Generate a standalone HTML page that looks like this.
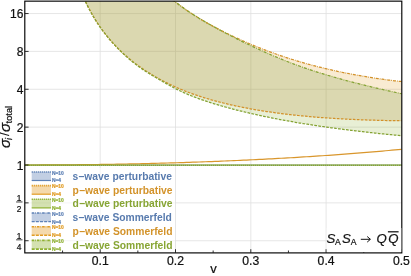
<!DOCTYPE html>
<html><head><meta charset="utf-8"><title>plot</title>
<style>html,body{margin:0;padding:0;background:#fff;}body{width:411px;height:276px;overflow:hidden;position:relative;font-family:"Liberation Sans",sans-serif;}svg{will-change:transform;}svg text{font-family:"Liberation Sans",sans-serif;}svg text[fill="#111"]{stroke:#111;stroke-width:0.22px;}</style>
</head><body>
<svg width="411" height="276" viewBox="0 0 411 276" style="position:absolute;left:0;top:0">
<defs><clipPath id="c"><rect x="24.8" y="1.15" width="377.0" height="251.75"/></clipPath></defs>
<rect x="0" y="0" width="411" height="276" fill="#fff"/>
<path d="M100.20,1.15 V252.9 M175.50,1.15 V252.9 M250.80,1.15 V252.9 M326.10,1.15 V252.9 M24.8,13.56 H401.8 M24.8,51.42 H401.8 M24.8,89.28 H401.8 M24.8,127.14 H401.8 M24.8,165.00 H401.8 M24.8,202.86 H401.8 M24.8,240.72 H401.8" stroke="#e0e0e0" stroke-width="0.8" fill="none"/>
<g clip-path="url(#c)">
<path d="M82.30,1.15 L172.40,1.15 L172.40,-0.43 L173.90,0.78 L175.40,1.96 L176.90,3.13 L178.40,4.27 L179.90,5.39 L181.40,6.49 L182.90,7.57 L184.40,8.64 L185.90,9.69 L187.40,10.72 L188.90,11.73 L190.40,12.73 L191.90,13.72 L193.40,14.69 L194.90,15.64 L196.40,16.59 L197.90,17.52 L199.40,18.43 L200.90,19.34 L202.40,20.23 L203.90,21.11 L205.40,21.98 L206.90,22.84 L208.40,23.69 L209.90,24.53 L211.40,25.36 L212.90,26.18 L214.40,26.99 L215.90,27.79 L217.40,28.59 L218.90,29.37 L220.40,30.14 L221.90,30.91 L223.40,31.67 L224.90,32.42 L226.40,33.16 L227.90,33.90 L229.40,34.63 L230.90,35.35 L232.40,36.06 L233.90,36.77 L235.40,37.47 L236.90,38.16 L238.40,38.85 L239.90,39.53 L241.40,40.21 L242.90,40.87 L244.40,41.54 L245.90,42.19 L247.40,42.84 L248.90,43.48 L250.40,44.12 L251.90,44.75 L253.40,45.37 L254.90,45.99 L256.40,46.60 L257.90,47.21 L259.40,47.81 L260.90,48.40 L262.40,48.99 L263.90,49.57 L265.40,50.15 L266.90,50.72 L268.40,51.28 L269.90,51.84 L271.40,52.39 L272.90,52.93 L274.40,53.47 L275.90,54.01 L277.40,54.53 L278.90,55.06 L280.40,55.57 L281.90,56.08 L283.40,56.59 L284.90,57.09 L286.40,57.58 L287.90,58.07 L289.40,58.55 L290.90,59.03 L292.40,59.50 L293.90,59.97 L295.40,60.43 L296.90,60.89 L298.40,61.34 L299.90,61.78 L301.40,62.22 L302.90,62.66 L304.40,63.09 L305.90,63.51 L307.40,63.93 L308.90,64.35 L310.40,64.76 L311.90,65.16 L313.40,65.56 L314.90,65.95 L316.40,66.34 L317.90,66.73 L319.40,67.11 L320.90,67.48 L322.40,67.85 L323.90,68.22 L325.40,68.58 L326.90,68.94 L328.40,69.29 L329.90,69.64 L331.40,69.98 L332.90,70.32 L334.40,70.65 L335.90,70.98 L337.40,71.31 L338.90,71.63 L340.40,71.94 L341.90,72.26 L343.40,72.57 L344.90,72.87 L346.40,73.17 L347.90,73.47 L349.40,73.76 L350.90,74.05 L352.40,74.33 L353.90,74.61 L355.40,74.89 L356.90,75.16 L358.40,75.43 L359.90,75.69 L361.40,75.95 L362.90,76.21 L364.40,76.46 L365.90,76.71 L367.40,76.96 L368.90,77.20 L370.40,77.44 L371.90,77.68 L373.40,77.91 L374.90,78.13 L376.40,78.36 L377.90,78.58 L379.40,78.80 L380.90,79.01 L382.40,79.22 L383.90,79.43 L385.40,79.63 L386.90,79.83 L388.40,80.03 L389.90,80.22 L391.40,80.42 L392.90,80.60 L394.40,80.79 L395.90,80.97 L397.40,81.15 L398.90,81.32 L400.40,81.49 L401.90,81.66 L401.80,120.75 L400.30,120.74 L398.80,120.72 L397.30,120.70 L395.80,120.68 L394.30,120.66 L392.80,120.64 L391.30,120.61 L389.80,120.58 L388.30,120.56 L386.80,120.53 L385.30,120.50 L383.80,120.47 L382.30,120.43 L380.80,120.40 L379.30,120.36 L377.80,120.32 L376.30,120.28 L374.80,120.24 L373.30,120.20 L371.80,120.15 L370.30,120.11 L368.80,120.06 L367.30,120.01 L365.80,119.96 L364.30,119.90 L362.80,119.85 L361.30,119.79 L359.80,119.73 L358.30,119.67 L356.80,119.61 L355.30,119.55 L353.80,119.48 L352.30,119.41 L350.80,119.34 L349.30,119.27 L347.80,119.20 L346.30,119.12 L344.80,119.04 L343.30,118.96 L341.80,118.88 L340.30,118.80 L338.80,118.71 L337.30,118.63 L335.80,118.54 L334.30,118.44 L332.80,118.35 L331.30,118.25 L329.80,118.15 L328.30,118.05 L326.80,117.95 L325.30,117.84 L323.80,117.73 L322.30,117.62 L320.80,117.51 L319.30,117.39 L317.80,117.28 L316.30,117.16 L314.80,117.03 L313.30,116.91 L311.80,116.78 L310.30,116.65 L308.80,116.51 L307.30,116.38 L305.80,116.24 L304.30,116.10 L302.80,115.95 L301.30,115.80 L299.80,115.65 L298.30,115.50 L296.80,115.34 L295.30,115.18 L293.80,115.02 L292.30,114.86 L290.80,114.69 L289.30,114.52 L287.80,114.34 L286.30,114.16 L284.80,113.98 L283.30,113.80 L281.80,113.61 L280.30,113.41 L278.80,113.22 L277.30,113.02 L275.80,112.82 L274.30,112.61 L272.80,112.40 L271.30,112.19 L269.80,111.97 L268.30,111.75 L266.80,111.53 L265.30,111.30 L263.80,111.06 L262.30,110.83 L260.80,110.58 L259.30,110.34 L257.80,110.09 L256.30,109.84 L254.80,109.58 L253.30,109.31 L251.80,109.05 L250.30,108.77 L248.80,108.50 L247.30,108.22 L245.80,107.93 L244.30,107.64 L242.80,107.34 L241.30,107.04 L239.80,106.74 L238.30,106.42 L236.80,106.11 L235.30,105.78 L233.80,105.46 L232.30,105.12 L230.80,104.78 L229.30,104.44 L227.80,104.09 L226.30,103.73 L224.80,103.37 L223.30,103.00 L221.80,102.63 L220.30,102.25 L218.80,101.86 L217.30,101.46 L215.80,101.06 L214.30,100.66 L212.80,100.24 L211.30,99.82 L209.80,99.39 L208.30,98.95 L206.80,98.50 L205.30,98.05 L203.80,97.59 L202.30,97.12 L200.80,96.64 L199.30,96.15 L197.80,95.65 L196.30,95.15 L194.80,94.63 L193.30,94.10 L191.80,93.57 L190.30,93.02 L188.80,92.46 L187.30,91.89 L185.80,91.31 L184.30,90.72 L182.80,90.12 L181.30,89.50 L179.80,88.88 L178.30,88.24 L176.80,87.58 L175.30,86.92 L173.80,86.24 L172.30,85.55 L170.80,84.84 L169.30,84.12 L167.80,83.39 L166.30,82.64 L164.80,81.88 L163.30,81.10 L161.80,80.31 L160.30,79.50 L158.80,78.68 L157.30,77.84 L155.80,76.99 L154.30,76.11 L152.80,75.23 L151.30,74.32 L149.80,73.40 L148.30,72.46 L146.80,71.50 L145.30,70.52 L143.80,69.52 L142.30,68.50 L140.80,67.47 L139.30,66.41 L137.80,65.32 L136.30,64.22 L134.80,63.09 L133.30,61.94 L131.80,60.76 L130.30,59.55 L128.80,58.31 L127.30,57.05 L125.80,55.75 L124.30,54.43 L122.80,53.06 L121.30,51.67 L119.80,50.23 L118.30,48.76 L116.80,47.25 L115.30,45.69 L113.80,44.09 L112.30,42.44 L110.80,40.75 L109.30,39.00 L107.80,37.20 L106.30,35.34 L104.80,33.42 L103.30,31.44 L101.80,29.39 L100.30,27.27 L98.80,25.07 L97.30,22.79 L95.80,20.44 L94.30,17.99 L92.80,15.44 L91.30,12.80 L89.80,10.05 L88.30,7.18 L86.80,4.20 L85.30,1.08 L83.80,-2.18 L82.30,-5.59Z" fill="#E19C24" fill-opacity="0.205"/>
<path d="M82.30,1.15 L172.40,1.15 L172.40,-0.53 L173.90,0.71 L175.40,1.92 L176.90,3.11 L178.40,4.27 L179.90,5.40 L181.40,6.51 L182.90,7.60 L184.40,8.67 L185.90,9.72 L187.40,10.75 L188.90,11.76 L190.40,12.76 L191.90,13.74 L193.40,14.70 L194.90,15.65 L196.40,16.59 L197.90,17.52 L199.40,18.43 L200.90,19.34 L202.40,20.23 L203.90,21.11 L205.40,21.99 L206.90,22.85 L208.40,23.71 L209.90,24.56 L211.40,25.40 L212.90,26.24 L214.40,27.07 L215.90,27.89 L217.40,28.71 L218.90,29.52 L220.40,30.32 L221.90,31.12 L223.40,31.91 L224.90,32.70 L226.40,33.48 L227.90,34.26 L229.40,35.03 L230.90,35.80 L232.40,36.57 L233.90,37.33 L235.40,38.08 L236.90,38.84 L238.40,39.59 L239.90,40.33 L241.40,41.08 L242.90,41.82 L244.40,42.55 L245.90,43.28 L247.40,44.01 L248.90,44.73 L250.40,45.45 L251.90,46.16 L253.40,46.87 L254.90,47.57 L256.40,48.27 L257.90,48.97 L259.40,49.66 L260.90,50.34 L262.40,51.02 L263.90,51.70 L265.40,52.37 L266.90,53.03 L268.40,53.69 L269.90,54.34 L271.40,54.99 L272.90,55.63 L274.40,56.27 L275.90,56.90 L277.40,57.53 L278.90,58.15 L280.40,58.77 L281.90,59.38 L283.40,59.98 L284.90,60.58 L286.40,61.17 L287.90,61.76 L289.40,62.34 L290.90,62.92 L292.40,63.48 L293.90,64.05 L295.40,64.61 L296.90,65.16 L298.40,65.71 L299.90,66.25 L301.40,66.78 L302.90,67.31 L304.40,67.83 L305.90,68.35 L307.40,68.86 L308.90,69.37 L310.40,69.87 L311.90,70.37 L313.40,70.86 L314.90,71.35 L316.40,71.83 L317.90,72.31 L319.40,72.78 L320.90,73.24 L322.40,73.71 L323.90,74.17 L325.40,74.62 L326.90,75.07 L328.40,75.52 L329.90,75.96 L331.40,76.40 L332.90,76.83 L334.40,77.26 L335.90,77.69 L337.40,78.11 L338.90,78.53 L340.40,78.95 L341.90,79.36 L343.40,79.77 L344.90,80.18 L346.40,80.58 L347.90,80.98 L349.40,81.38 L350.90,81.77 L352.40,82.17 L353.90,82.55 L355.40,82.94 L356.90,83.32 L358.40,83.70 L359.90,84.08 L361.40,84.46 L362.90,84.83 L364.40,85.20 L365.90,85.57 L367.40,85.93 L368.90,86.30 L370.40,86.66 L371.90,87.02 L373.40,87.38 L374.90,87.73 L376.40,88.08 L377.90,88.43 L379.40,88.78 L380.90,89.13 L382.40,89.48 L383.90,89.82 L385.40,90.16 L386.90,90.50 L388.40,90.84 L389.90,91.17 L391.40,91.51 L392.90,91.84 L394.40,92.17 L395.90,92.50 L397.40,92.83 L398.90,93.16 L400.40,93.49 L401.90,93.81 L401.80,135.72 L400.30,135.58 L398.80,135.44 L397.30,135.30 L395.80,135.16 L394.30,135.01 L392.80,134.87 L391.30,134.72 L389.80,134.58 L388.30,134.43 L386.80,134.28 L385.30,134.13 L383.80,133.97 L382.30,133.82 L380.80,133.67 L379.30,133.51 L377.80,133.35 L376.30,133.20 L374.80,133.04 L373.30,132.88 L371.80,132.71 L370.30,132.55 L368.80,132.38 L367.30,132.22 L365.80,132.05 L364.30,131.88 L362.80,131.71 L361.30,131.54 L359.80,131.36 L358.30,131.19 L356.80,131.01 L355.30,130.83 L353.80,130.65 L352.30,130.47 L350.80,130.29 L349.30,130.11 L347.80,129.92 L346.30,129.73 L344.80,129.54 L343.30,129.35 L341.80,129.16 L340.30,128.97 L338.80,128.77 L337.30,128.57 L335.80,128.37 L334.30,128.17 L332.80,127.97 L331.30,127.77 L329.80,127.56 L328.30,127.35 L326.80,127.14 L325.30,126.93 L323.80,126.72 L322.30,126.50 L320.80,126.28 L319.30,126.06 L317.80,125.84 L316.30,125.62 L314.80,125.39 L313.30,125.16 L311.80,124.93 L310.30,124.70 L308.80,124.47 L307.30,124.23 L305.80,123.99 L304.30,123.75 L302.80,123.51 L301.30,123.26 L299.80,123.02 L298.30,122.77 L296.80,122.51 L295.30,122.26 L293.80,122.00 L292.30,121.74 L290.80,121.48 L289.30,121.21 L287.80,120.95 L286.30,120.68 L284.80,120.40 L283.30,120.13 L281.80,119.85 L280.30,119.57 L278.80,119.29 L277.30,119.00 L275.80,118.71 L274.30,118.42 L272.80,118.13 L271.30,117.83 L269.80,117.53 L268.30,117.22 L266.80,116.92 L265.30,116.61 L263.80,116.29 L262.30,115.98 L260.80,115.66 L259.30,115.33 L257.80,115.01 L256.30,114.68 L254.80,114.34 L253.30,114.01 L251.80,113.66 L250.30,113.32 L248.80,112.97 L247.30,112.62 L245.80,112.26 L244.30,111.91 L242.80,111.54 L241.30,111.17 L239.80,110.80 L238.30,110.43 L236.80,110.05 L235.30,109.66 L233.80,109.28 L232.30,108.88 L230.80,108.49 L229.30,108.08 L227.80,107.68 L226.30,107.27 L224.80,106.85 L223.30,106.43 L221.80,106.00 L220.30,105.57 L218.80,105.14 L217.30,104.70 L215.80,104.25 L214.30,103.80 L212.80,103.34 L211.30,102.87 L209.80,102.39 L208.30,101.91 L206.80,101.42 L205.30,100.93 L203.80,100.42 L202.30,99.91 L200.80,99.38 L199.30,98.85 L197.80,98.31 L196.30,97.75 L194.80,97.19 L193.30,96.61 L191.80,96.02 L190.30,95.42 L188.80,94.80 L187.30,94.17 L185.80,93.53 L184.30,92.87 L182.80,92.19 L181.30,91.50 L179.80,90.79 L178.30,90.06 L176.80,89.32 L175.30,88.55 L173.80,87.76 L172.30,86.96 L170.80,86.14 L169.30,85.30 L167.80,84.46 L166.30,83.60 L164.80,82.74 L163.30,81.88 L161.80,81.01 L160.30,80.15 L158.80,79.29 L157.30,78.42 L155.80,77.56 L154.30,76.68 L152.80,75.80 L151.30,74.90 L149.80,73.99 L148.30,73.07 L146.80,72.12 L145.30,71.15 L143.80,70.15 L142.30,69.13 L140.80,68.08 L139.30,67.01 L137.80,65.91 L136.30,64.77 L134.80,63.61 L133.30,62.43 L131.80,61.21 L130.30,59.96 L128.80,58.68 L127.30,57.37 L125.80,56.03 L124.30,54.65 L122.80,53.24 L121.30,51.80 L119.80,50.33 L118.30,48.82 L116.80,47.28 L115.30,45.70 L113.80,44.08 L112.30,42.43 L110.80,40.74 L109.30,39.00 L107.80,37.21 L106.30,35.37 L104.80,33.48 L103.30,31.53 L101.80,29.51 L100.30,27.42 L98.80,25.25 L97.30,23.01 L95.80,20.67 L94.30,18.24 L92.80,15.70 L91.30,13.05 L89.80,10.28 L88.30,7.37 L86.80,4.32 L85.30,1.11 L83.80,-2.28 L82.30,-5.85Z" fill="#8FB032" fill-opacity="0.205"/>
<path d="M82.30,1.15 L172.40,1.15 L172.40,-0.53 L173.90,0.71 L175.40,1.92 L176.90,3.11 L178.40,4.27 L179.90,5.40 L181.40,6.51 L182.90,7.60 L184.40,8.67 L185.90,9.72 L187.40,10.75 L188.90,11.76 L190.40,12.76 L191.90,13.74 L193.40,14.70 L194.90,15.65 L196.40,16.59 L197.90,17.52 L199.40,18.43 L200.90,19.34 L202.40,20.23 L203.90,21.11 L205.40,21.99 L206.90,22.85 L208.40,23.71 L209.90,24.56 L211.40,25.40 L212.90,26.24 L214.40,27.07 L215.90,27.89 L217.40,28.71 L218.90,29.52 L220.40,30.32 L221.90,31.12 L223.40,31.91 L224.90,32.70 L226.40,33.48 L227.90,34.26 L229.40,35.03 L230.90,35.80 L232.40,36.57 L233.90,37.33 L235.40,38.08 L236.90,38.84 L238.40,39.59 L239.90,40.33 L241.40,41.08 L242.90,41.82 L244.40,42.55 L245.90,43.28 L247.40,44.01 L248.90,44.73 L250.40,45.45 L251.90,46.16 L253.40,46.87 L254.90,47.57 L256.40,48.27 L257.90,48.97 L259.40,49.66 L260.90,50.34 L262.40,51.02 L263.90,51.70 L265.40,52.37 L266.90,53.03 L268.40,53.69 L269.90,54.34 L271.40,54.99 L272.90,55.63 L274.40,56.27 L275.90,56.90 L277.40,57.53 L278.90,58.15 L280.40,58.77 L281.90,59.38 L283.40,59.98 L284.90,60.58 L286.40,61.17 L287.90,61.76 L289.40,62.34 L290.90,62.92 L292.40,63.48 L293.90,64.05 L295.40,64.61 L296.90,65.16 L298.40,65.71 L299.90,66.25 L301.40,66.78 L302.90,67.31 L304.40,67.83 L305.90,68.35 L307.40,68.86 L308.90,69.37 L310.40,69.87 L311.90,70.37 L313.40,70.86 L314.90,71.35 L316.40,71.83 L317.90,72.31 L319.40,72.78 L320.90,73.24 L322.40,73.71 L323.90,74.17 L325.40,74.62 L326.90,75.07 L328.40,75.52 L329.90,75.96 L331.40,76.40 L332.90,76.83 L334.40,77.26 L335.90,77.69 L337.40,78.11 L338.90,78.53 L340.40,78.95 L341.90,79.36 L343.40,79.77 L344.90,80.18 L346.40,80.58 L347.90,80.98 L349.40,81.38 L350.90,81.77 L352.40,82.17 L353.90,82.55 L355.40,82.94 L356.90,83.32 L358.40,83.70 L359.90,84.08 L361.40,84.46 L362.90,84.83 L364.40,85.20 L365.90,85.57 L367.40,85.93 L368.90,86.30 L370.40,86.66 L371.90,87.02 L373.40,87.38 L374.90,87.73 L376.40,88.08 L377.90,88.43 L379.40,88.78 L380.90,89.13 L382.40,89.48 L383.90,89.82 L385.40,90.16 L386.90,90.50 L388.40,90.84 L389.90,91.17 L391.40,91.51 L392.90,91.84 L394.40,92.17 L395.90,92.50 L397.40,92.83 L398.90,93.16 L400.40,93.49 L401.90,93.81 L401.80,120.75 L400.30,120.74 L398.80,120.72 L397.30,120.70 L395.80,120.68 L394.30,120.66 L392.80,120.64 L391.30,120.61 L389.80,120.58 L388.30,120.56 L386.80,120.53 L385.30,120.50 L383.80,120.47 L382.30,120.43 L380.80,120.40 L379.30,120.36 L377.80,120.32 L376.30,120.28 L374.80,120.24 L373.30,120.20 L371.80,120.15 L370.30,120.11 L368.80,120.06 L367.30,120.01 L365.80,119.96 L364.30,119.90 L362.80,119.85 L361.30,119.79 L359.80,119.73 L358.30,119.67 L356.80,119.61 L355.30,119.55 L353.80,119.48 L352.30,119.41 L350.80,119.34 L349.30,119.27 L347.80,119.20 L346.30,119.12 L344.80,119.04 L343.30,118.96 L341.80,118.88 L340.30,118.80 L338.80,118.71 L337.30,118.63 L335.80,118.54 L334.30,118.44 L332.80,118.35 L331.30,118.25 L329.80,118.15 L328.30,118.05 L326.80,117.95 L325.30,117.84 L323.80,117.73 L322.30,117.62 L320.80,117.51 L319.30,117.39 L317.80,117.28 L316.30,117.16 L314.80,117.03 L313.30,116.91 L311.80,116.78 L310.30,116.65 L308.80,116.51 L307.30,116.38 L305.80,116.24 L304.30,116.10 L302.80,115.95 L301.30,115.80 L299.80,115.65 L298.30,115.50 L296.80,115.34 L295.30,115.18 L293.80,115.02 L292.30,114.86 L290.80,114.69 L289.30,114.52 L287.80,114.34 L286.30,114.16 L284.80,113.98 L283.30,113.80 L281.80,113.61 L280.30,113.41 L278.80,113.22 L277.30,113.02 L275.80,112.82 L274.30,112.61 L272.80,112.40 L271.30,112.19 L269.80,111.97 L268.30,111.75 L266.80,111.53 L265.30,111.30 L263.80,111.06 L262.30,110.83 L260.80,110.58 L259.30,110.34 L257.80,110.09 L256.30,109.84 L254.80,109.58 L253.30,109.31 L251.80,109.05 L250.30,108.77 L248.80,108.50 L247.30,108.22 L245.80,107.93 L244.30,107.64 L242.80,107.34 L241.30,107.04 L239.80,106.74 L238.30,106.42 L236.80,106.11 L235.30,105.78 L233.80,105.46 L232.30,105.12 L230.80,104.78 L229.30,104.44 L227.80,104.09 L226.30,103.73 L224.80,103.37 L223.30,103.00 L221.80,102.63 L220.30,102.25 L218.80,101.86 L217.30,101.46 L215.80,101.06 L214.30,100.66 L212.80,100.24 L211.30,99.82 L209.80,99.39 L208.30,98.95 L206.80,98.50 L205.30,98.05 L203.80,97.59 L202.30,97.12 L200.80,96.64 L199.30,96.15 L197.80,95.65 L196.30,95.15 L194.80,94.63 L193.30,94.10 L191.80,93.57 L190.30,93.02 L188.80,92.46 L187.30,91.89 L185.80,91.31 L184.30,90.72 L182.80,90.12 L181.30,89.50 L179.80,88.88 L178.30,88.24 L176.80,87.58 L175.30,86.92 L173.80,86.24 L172.30,85.55 L170.80,84.84 L169.30,84.12 L167.80,83.39 L166.30,82.64 L164.80,81.88 L163.30,81.10 L161.80,80.31 L160.30,79.50 L158.80,78.68 L157.30,77.84 L155.80,76.99 L154.30,76.11 L152.80,75.23 L151.30,74.32 L149.80,73.40 L148.30,72.46 L146.80,71.50 L145.30,70.52 L143.80,69.52 L142.30,68.50 L140.80,67.47 L139.30,66.41 L137.80,65.32 L136.30,64.22 L134.80,63.09 L133.30,61.94 L131.80,60.76 L130.30,59.55 L128.80,58.31 L127.30,57.05 L125.80,55.75 L124.30,54.43 L122.80,53.06 L121.30,51.67 L119.80,50.23 L118.30,48.76 L116.80,47.25 L115.30,45.69 L113.80,44.09 L112.30,42.44 L110.80,40.75 L109.30,39.00 L107.80,37.20 L106.30,35.34 L104.80,33.42 L103.30,31.44 L101.80,29.39 L100.30,27.27 L98.80,25.07 L97.30,22.79 L95.80,20.44 L94.30,17.99 L92.80,15.44 L91.30,12.80 L89.80,10.05 L88.30,7.18 L86.80,4.20 L85.30,1.08 L83.80,-2.18 L82.30,-5.59Z" fill="#5E6FA0" fill-opacity="0.055"/>
<path d="M82.30,-5.59 L83.80,-2.18 L85.30,1.08 L86.80,4.20 L88.30,7.18 L89.80,10.05 L91.30,12.80 L92.80,15.44 L94.30,17.99 L95.80,20.44 L97.30,22.79 L98.80,25.07 L100.30,27.27 L101.80,29.39 L103.30,31.44 L104.80,33.42 L106.30,35.34 L107.80,37.20 L109.30,39.00 L110.80,40.75 L112.30,42.44 L113.80,44.09 L115.30,45.69 L116.80,47.25 L118.30,48.76 L119.80,50.23 L121.30,51.67 L122.80,53.06 L124.30,54.43 L125.80,55.75 L127.30,57.05 L128.80,58.31 L130.30,59.55 L131.80,60.76 L133.30,61.94 L134.80,63.09 L136.30,64.22 L137.80,65.32 L139.30,66.41 L140.80,67.47 L142.30,68.50 L143.80,69.52 L145.30,70.52 L146.80,71.50 L148.30,72.46 L149.80,73.40 L151.30,74.32 L152.80,75.23 L154.30,76.11 L155.80,76.99 L157.30,77.84 L158.80,78.68 L160.30,79.50 L161.80,80.31 L163.30,81.10 L164.80,81.88 L166.30,82.64 L167.80,83.39 L169.30,84.12 L170.80,84.84 L172.30,85.55 L173.80,86.24 L175.30,86.92 L176.80,87.58 L178.30,88.24 L179.80,88.88 L181.30,89.50 L182.80,90.12 L184.30,90.72 L185.80,91.31 L187.30,91.89 L188.80,92.46 L190.30,93.02 L191.80,93.57 L193.30,94.10 L194.80,94.63 L196.30,95.15 L197.80,95.65 L199.30,96.15 L200.80,96.64 L202.30,97.12 L203.80,97.59 L205.30,98.05 L206.80,98.50 L208.30,98.95 L209.80,99.39 L211.30,99.82 L212.80,100.24 L214.30,100.66 L215.80,101.06 L217.30,101.46 L218.80,101.86 L220.30,102.25 L221.80,102.63 L223.30,103.00 L224.80,103.37 L226.30,103.73 L227.80,104.09 L229.30,104.44 L230.80,104.78 L232.30,105.12 L233.80,105.46 L235.30,105.78 L236.80,106.11 L238.30,106.42 L239.80,106.74 L241.30,107.04 L242.80,107.34 L244.30,107.64 L245.80,107.93 L247.30,108.22 L248.80,108.50 L250.30,108.77 L251.80,109.05 L253.30,109.31 L254.80,109.58 L256.30,109.84 L257.80,110.09 L259.30,110.34 L260.80,110.58 L262.30,110.83 L263.80,111.06 L265.30,111.30 L266.80,111.53 L268.30,111.75 L269.80,111.97 L271.30,112.19 L272.80,112.40 L274.30,112.61 L275.80,112.82 L277.30,113.02 L278.80,113.22 L280.30,113.41 L281.80,113.61 L283.30,113.80 L284.80,113.98 L286.30,114.16 L287.80,114.34 L289.30,114.52 L290.80,114.69 L292.30,114.86 L293.80,115.02 L295.30,115.18 L296.80,115.34 L298.30,115.50 L299.80,115.65 L301.30,115.80 L302.80,115.95 L304.30,116.10 L305.80,116.24 L307.30,116.38 L308.80,116.51 L310.30,116.65 L311.80,116.78 L313.30,116.91 L314.80,117.03 L316.30,117.16 L317.80,117.28 L319.30,117.39 L320.80,117.51 L322.30,117.62 L323.80,117.73 L325.30,117.84 L326.80,117.95 L328.30,118.05 L329.80,118.15 L331.30,118.25 L332.80,118.35 L334.30,118.44 L335.80,118.54 L337.30,118.63 L338.80,118.71 L340.30,118.80 L341.80,118.88 L343.30,118.96 L344.80,119.04 L346.30,119.12 L347.80,119.20 L349.30,119.27 L350.80,119.34 L352.30,119.41 L353.80,119.48 L355.30,119.55 L356.80,119.61 L358.30,119.67 L359.80,119.73 L361.30,119.79 L362.80,119.85 L364.30,119.90 L365.80,119.96 L367.30,120.01 L368.80,120.06 L370.30,120.11 L371.80,120.15 L373.30,120.20 L374.80,120.24 L376.30,120.28 L377.80,120.32 L379.30,120.36 L380.80,120.40 L382.30,120.43 L383.80,120.47 L385.30,120.50 L386.80,120.53 L388.30,120.56 L389.80,120.58 L391.30,120.61 L392.80,120.64 L394.30,120.66 L395.80,120.68 L397.30,120.70 L398.80,120.72 L400.30,120.74 L401.80,120.75" stroke="#D2912A" stroke-width="1.25" fill="none" stroke-dasharray="2.7 1.3"/>
<path d="M82.30,-5.85 L83.80,-2.28 L85.30,1.11 L86.80,4.32 L88.30,7.37 L89.80,10.28 L91.30,13.05 L92.80,15.70 L94.30,18.24 L95.80,20.67 L97.30,23.01 L98.80,25.25 L100.30,27.42 L101.80,29.51 L103.30,31.53 L104.80,33.48 L106.30,35.37 L107.80,37.21 L109.30,39.00 L110.80,40.74 L112.30,42.43 L113.80,44.08 L115.30,45.70 L116.80,47.28 L118.30,48.82 L119.80,50.33 L121.30,51.80 L122.80,53.24 L124.30,54.65 L125.80,56.03 L127.30,57.37 L128.80,58.68 L130.30,59.96 L131.80,61.21 L133.30,62.43 L134.80,63.61 L136.30,64.77 L137.80,65.91 L139.30,67.01 L140.80,68.08 L142.30,69.13 L143.80,70.15 L145.30,71.15 L146.80,72.12 L148.30,73.07 L149.80,73.99 L151.30,74.90 L152.80,75.80 L154.30,76.68 L155.80,77.56 L157.30,78.42 L158.80,79.29 L160.30,80.15 L161.80,81.01 L163.30,81.88 L164.80,82.74 L166.30,83.60 L167.80,84.46 L169.30,85.30 L170.80,86.14 L172.30,86.96 L173.80,87.76 L175.30,88.55 L176.80,89.32 L178.30,90.06 L179.80,90.79 L181.30,91.50 L182.80,92.19 L184.30,92.87 L185.80,93.53 L187.30,94.17 L188.80,94.80 L190.30,95.42 L191.80,96.02 L193.30,96.61 L194.80,97.19 L196.30,97.75 L197.80,98.31 L199.30,98.85 L200.80,99.38 L202.30,99.91 L203.80,100.42 L205.30,100.93 L206.80,101.42 L208.30,101.91 L209.80,102.39 L211.30,102.87 L212.80,103.34 L214.30,103.80 L215.80,104.25 L217.30,104.70 L218.80,105.14 L220.30,105.57 L221.80,106.00 L223.30,106.43 L224.80,106.85 L226.30,107.27 L227.80,107.68 L229.30,108.08 L230.80,108.49 L232.30,108.88 L233.80,109.28 L235.30,109.66 L236.80,110.05 L238.30,110.43 L239.80,110.80 L241.30,111.17 L242.80,111.54 L244.30,111.91 L245.80,112.26 L247.30,112.62 L248.80,112.97 L250.30,113.32 L251.80,113.66 L253.30,114.01 L254.80,114.34 L256.30,114.68 L257.80,115.01 L259.30,115.33 L260.80,115.66 L262.30,115.98 L263.80,116.29 L265.30,116.61 L266.80,116.92 L268.30,117.22 L269.80,117.53 L271.30,117.83 L272.80,118.13 L274.30,118.42 L275.80,118.71 L277.30,119.00 L278.80,119.29 L280.30,119.57 L281.80,119.85 L283.30,120.13 L284.80,120.40 L286.30,120.68 L287.80,120.95 L289.30,121.21 L290.80,121.48 L292.30,121.74 L293.80,122.00 L295.30,122.26 L296.80,122.51 L298.30,122.77 L299.80,123.02 L301.30,123.26 L302.80,123.51 L304.30,123.75 L305.80,123.99 L307.30,124.23 L308.80,124.47 L310.30,124.70 L311.80,124.93 L313.30,125.16 L314.80,125.39 L316.30,125.62 L317.80,125.84 L319.30,126.06 L320.80,126.28 L322.30,126.50 L323.80,126.72 L325.30,126.93 L326.80,127.14 L328.30,127.35 L329.80,127.56 L331.30,127.77 L332.80,127.97 L334.30,128.17 L335.80,128.37 L337.30,128.57 L338.80,128.77 L340.30,128.97 L341.80,129.16 L343.30,129.35 L344.80,129.54 L346.30,129.73 L347.80,129.92 L349.30,130.11 L350.80,130.29 L352.30,130.47 L353.80,130.65 L355.30,130.83 L356.80,131.01 L358.30,131.19 L359.80,131.36 L361.30,131.54 L362.80,131.71 L364.30,131.88 L365.80,132.05 L367.30,132.22 L368.80,132.38 L370.30,132.55 L371.80,132.71 L373.30,132.88 L374.80,133.04 L376.30,133.20 L377.80,133.35 L379.30,133.51 L380.80,133.67 L382.30,133.82 L383.80,133.97 L385.30,134.13 L386.80,134.28 L388.30,134.43 L389.80,134.58 L391.30,134.72 L392.80,134.87 L394.30,135.01 L395.80,135.16 L397.30,135.30 L398.80,135.44 L400.30,135.58 L401.80,135.72" stroke="#84A233" stroke-width="1.25" fill="none" stroke-dasharray="2.7 1.3"/>
<path d="M172.40,-0.43 L173.90,0.78 L175.40,1.96 L176.90,3.13 L178.40,4.27 L179.90,5.39 L181.40,6.49 L182.90,7.57 L184.40,8.64 L185.90,9.69 L187.40,10.72 L188.90,11.73 L190.40,12.73 L191.90,13.72 L193.40,14.69 L194.90,15.64 L196.40,16.59 L197.90,17.52 L199.40,18.43 L200.90,19.34 L202.40,20.23 L203.90,21.11 L205.40,21.98 L206.90,22.84 L208.40,23.69 L209.90,24.53 L211.40,25.36 L212.90,26.18 L214.40,26.99 L215.90,27.79 L217.40,28.59 L218.90,29.37 L220.40,30.14 L221.90,30.91 L223.40,31.67 L224.90,32.42 L226.40,33.16 L227.90,33.90 L229.40,34.63 L230.90,35.35 L232.40,36.06 L233.90,36.77 L235.40,37.47 L236.90,38.16 L238.40,38.85 L239.90,39.53 L241.40,40.21 L242.90,40.87 L244.40,41.54 L245.90,42.19 L247.40,42.84 L248.90,43.48 L250.40,44.12 L251.90,44.75 L253.40,45.37 L254.90,45.99 L256.40,46.60 L257.90,47.21 L259.40,47.81 L260.90,48.40 L262.40,48.99 L263.90,49.57 L265.40,50.15 L266.90,50.72 L268.40,51.28 L269.90,51.84 L271.40,52.39 L272.90,52.93 L274.40,53.47 L275.90,54.01 L277.40,54.53 L278.90,55.06 L280.40,55.57 L281.90,56.08 L283.40,56.59 L284.90,57.09 L286.40,57.58 L287.90,58.07 L289.40,58.55 L290.90,59.03 L292.40,59.50 L293.90,59.97 L295.40,60.43 L296.90,60.89 L298.40,61.34 L299.90,61.78 L301.40,62.22 L302.90,62.66 L304.40,63.09 L305.90,63.51 L307.40,63.93 L308.90,64.35 L310.40,64.76 L311.90,65.16 L313.40,65.56 L314.90,65.95 L316.40,66.34 L317.90,66.73 L319.40,67.11 L320.90,67.48 L322.40,67.85 L323.90,68.22 L325.40,68.58 L326.90,68.94 L328.40,69.29 L329.90,69.64 L331.40,69.98 L332.90,70.32 L334.40,70.65 L335.90,70.98 L337.40,71.31 L338.90,71.63 L340.40,71.94 L341.90,72.26 L343.40,72.57 L344.90,72.87 L346.40,73.17 L347.90,73.47 L349.40,73.76 L350.90,74.05 L352.40,74.33 L353.90,74.61 L355.40,74.89 L356.90,75.16 L358.40,75.43 L359.90,75.69 L361.40,75.95 L362.90,76.21 L364.40,76.46 L365.90,76.71 L367.40,76.96 L368.90,77.20 L370.40,77.44 L371.90,77.68 L373.40,77.91 L374.90,78.13 L376.40,78.36 L377.90,78.58 L379.40,78.80 L380.90,79.01 L382.40,79.22 L383.90,79.43 L385.40,79.63 L386.90,79.83 L388.40,80.03 L389.90,80.22 L391.40,80.42 L392.90,80.60 L394.40,80.79 L395.90,80.97 L397.40,81.15 L398.90,81.32 L400.40,81.49 L401.90,81.66" stroke="#D2912A" stroke-width="1.25" fill="none" stroke-dasharray="3 1 0.8 1"/>
<path d="M172.40,-0.53 L173.90,0.71 L175.40,1.92 L176.90,3.11 L178.40,4.27 L179.90,5.40 L181.40,6.51 L182.90,7.60 L184.40,8.67 L185.90,9.72 L187.40,10.75 L188.90,11.76 L190.40,12.76 L191.90,13.74 L193.40,14.70 L194.90,15.65 L196.40,16.59 L197.90,17.52 L199.40,18.43 L200.90,19.34 L202.40,20.23 L203.90,21.11 L205.40,21.99 L206.90,22.85 L208.40,23.71 L209.90,24.56 L211.40,25.40 L212.90,26.24 L214.40,27.07 L215.90,27.89 L217.40,28.71 L218.90,29.52 L220.40,30.32 L221.90,31.12 L223.40,31.91 L224.90,32.70 L226.40,33.48 L227.90,34.26 L229.40,35.03 L230.90,35.80 L232.40,36.57 L233.90,37.33 L235.40,38.08 L236.90,38.84 L238.40,39.59 L239.90,40.33 L241.40,41.08 L242.90,41.82 L244.40,42.55 L245.90,43.28 L247.40,44.01 L248.90,44.73 L250.40,45.45 L251.90,46.16 L253.40,46.87 L254.90,47.57 L256.40,48.27 L257.90,48.97 L259.40,49.66 L260.90,50.34 L262.40,51.02 L263.90,51.70 L265.40,52.37 L266.90,53.03 L268.40,53.69 L269.90,54.34 L271.40,54.99 L272.90,55.63 L274.40,56.27 L275.90,56.90 L277.40,57.53 L278.90,58.15 L280.40,58.77 L281.90,59.38 L283.40,59.98 L284.90,60.58 L286.40,61.17 L287.90,61.76 L289.40,62.34 L290.90,62.92 L292.40,63.48 L293.90,64.05 L295.40,64.61 L296.90,65.16 L298.40,65.71 L299.90,66.25 L301.40,66.78 L302.90,67.31 L304.40,67.83 L305.90,68.35 L307.40,68.86 L308.90,69.37 L310.40,69.87 L311.90,70.37 L313.40,70.86 L314.90,71.35 L316.40,71.83 L317.90,72.31 L319.40,72.78 L320.90,73.24 L322.40,73.71 L323.90,74.17 L325.40,74.62 L326.90,75.07 L328.40,75.52 L329.90,75.96 L331.40,76.40 L332.90,76.83 L334.40,77.26 L335.90,77.69 L337.40,78.11 L338.90,78.53 L340.40,78.95 L341.90,79.36 L343.40,79.77 L344.90,80.18 L346.40,80.58 L347.90,80.98 L349.40,81.38 L350.90,81.77 L352.40,82.17 L353.90,82.55 L355.40,82.94 L356.90,83.32 L358.40,83.70 L359.90,84.08 L361.40,84.46 L362.90,84.83 L364.40,85.20 L365.90,85.57 L367.40,85.93 L368.90,86.30 L370.40,86.66 L371.90,87.02 L373.40,87.38 L374.90,87.73 L376.40,88.08 L377.90,88.43 L379.40,88.78 L380.90,89.13 L382.40,89.48 L383.90,89.82 L385.40,90.16 L386.90,90.50 L388.40,90.84 L389.90,91.17 L391.40,91.51 L392.90,91.84 L394.40,92.17 L395.90,92.50 L397.40,92.83 L398.90,93.16 L400.40,93.49 L401.90,93.81" stroke="#84A233" stroke-width="1.25" fill="none" stroke-dasharray="3 1.2 0.8 1.2"/>
<path d="M24.8,165.05 H401.8" stroke="#5E81B5" stroke-width="1.2" fill="none" stroke-opacity="0.5"/>
<path d="M25.28,165.00 L28.44,165.00 L31.60,165.00 L34.76,164.99 L37.92,164.98 L41.08,164.97 L44.24,164.96 L47.40,164.95 L50.56,164.94 L53.72,164.92 L56.88,164.90 L60.04,164.88 L63.20,164.86 L66.37,164.83 L69.53,164.81 L72.69,164.78 L75.85,164.75 L79.01,164.72 L82.17,164.68 L85.33,164.65 L88.49,164.61 L91.65,164.57 L94.81,164.53 L97.97,164.48 L101.13,164.44 L104.29,164.39 L107.45,164.34 L110.62,164.29 L113.78,164.23 L116.94,164.18 L120.10,164.12 L123.26,164.06 L126.42,164.00 L129.58,163.93 L132.74,163.87 L135.90,163.80 L139.06,163.73 L142.22,163.66 L145.38,163.58 L148.54,163.51 L151.70,163.43 L154.87,163.35 L158.03,163.27 L161.19,163.18 L164.35,163.09 L167.51,163.00 L170.67,162.91 L173.83,162.82 L176.99,162.73 L180.15,162.63 L183.31,162.53 L186.47,162.43 L189.63,162.32 L192.79,162.21 L195.95,162.11 L199.12,162.00 L202.28,161.88 L205.44,161.77 L208.60,161.65 L211.76,161.53 L214.92,161.41 L218.08,161.28 L221.24,161.15 L224.40,161.02 L227.56,160.89 L230.72,160.76 L233.88,160.62 L237.04,160.48 L240.20,160.34 L243.36,160.20 L246.53,160.05 L249.69,159.90 L252.85,159.75 L256.01,159.60 L259.17,159.44 L262.33,159.28 L265.49,159.12 L268.65,158.95 L271.81,158.79 L274.97,158.62 L278.13,158.44 L281.29,158.27 L284.45,158.09 L287.61,157.91 L290.78,157.73 L293.94,157.54 L297.10,157.35 L300.26,157.16 L303.42,156.96 L306.58,156.77 L309.74,156.57 L312.90,156.36 L316.06,156.15 L319.22,155.94 L322.38,155.73 L325.54,155.52 L328.70,155.30 L331.86,155.07 L335.03,154.85 L338.19,154.62 L341.35,154.39 L344.51,154.15 L347.67,153.91 L350.83,153.67 L353.99,153.42 L357.15,153.17 L360.31,152.92 L363.47,152.66 L366.63,152.40 L369.79,152.14 L372.95,151.87 L376.11,151.60 L379.28,151.33 L382.44,151.05 L385.60,150.76 L388.76,150.48 L391.92,150.18 L395.08,149.89 L398.24,149.59 L401.40,149.29" stroke="#D9962C" stroke-width="1.2" fill="none"/>
<path d="M24.8,165.05 H401.8" stroke="#8DAD38" stroke-width="1.6" fill="none" stroke-opacity="0.66"/>
<path d="M24.8,165.3 H401.8" stroke="#86A634" stroke-width="1.2" fill="none" stroke-dasharray="1.2 0.8"/>
</g>
<rect x="27" y="168" width="148" height="83" fill="#fff" fill-opacity="0.6"/>
<rect x="31.7" y="171.90" width="19.30" height="8.60" fill="#5E81B5" fill-opacity="0.38"/>
<path d="M31.7,171.90 H51.0" stroke="#5E81B5" stroke-width="1.55" stroke-dasharray="1.2 0.8" fill="none"/>
<path d="M31.7,180.50 H51.0" stroke="#5E81B5" stroke-width="1.2" fill="none"/>
<text x="51.9" y="174.50" font-size="4.9" font-weight="bold" fill="#5E81B5" stroke="#5E81B5" stroke-width="0.2">N=10</text>
<text x="51.9" y="182.40" font-size="4.9" font-weight="bold" fill="#5E81B5" stroke="#5E81B5" stroke-width="0.2">N=4</text>
<text x="72.6" y="180.05" font-size="10.3" font-weight="bold" fill="#587BAE">s−wave perturbative</text>
<rect x="31.7" y="185.60" width="19.30" height="8.60" fill="#E19C24" fill-opacity="0.38"/>
<path d="M31.7,185.60 H51.0" stroke="#E19C24" stroke-width="1.55" stroke-dasharray="1.2 0.8" fill="none"/>
<path d="M31.7,194.20 H51.0" stroke="#E19C24" stroke-width="1.2" fill="none"/>
<text x="51.9" y="188.20" font-size="4.9" font-weight="bold" fill="#E19C24" stroke="#E19C24" stroke-width="0.2">N=10</text>
<text x="51.9" y="196.10" font-size="4.9" font-weight="bold" fill="#E19C24" stroke="#E19C24" stroke-width="0.2">N=4</text>
<text x="72.6" y="193.75" font-size="10.3" font-weight="bold" fill="#D3932A">p−wave perturbative</text>
<rect x="31.7" y="199.30" width="19.30" height="8.60" fill="#8FB032" fill-opacity="0.38"/>
<path d="M31.7,199.30 H51.0" stroke="#8FB032" stroke-width="1.55" stroke-dasharray="1.2 0.8" fill="none"/>
<path d="M31.7,207.90 H51.0" stroke="#8FB032" stroke-width="1.2" fill="none"/>
<text x="51.9" y="201.90" font-size="4.9" font-weight="bold" fill="#8FB032" stroke="#8FB032" stroke-width="0.2">N=10</text>
<text x="51.9" y="209.80" font-size="4.9" font-weight="bold" fill="#8FB032" stroke="#8FB032" stroke-width="0.2">N=4</text>
<text x="72.6" y="207.45" font-size="10.3" font-weight="bold" fill="#87A534">d−wave perturbative</text>
<rect x="31.7" y="213.00" width="19.30" height="8.60" fill="#5E81B5" fill-opacity="0.38"/>
<path d="M31.7,213.00 H51.0" stroke="#5E81B5" stroke-width="1.4" stroke-dasharray="2.6 0.9 0.8 0.9" fill="none"/>
<path d="M31.7,221.60 H51.0" stroke="#5E81B5" stroke-width="1.4" stroke-dasharray="3 1.15" fill="none"/>
<text x="51.9" y="215.60" font-size="4.9" font-weight="bold" fill="#5E81B5" stroke="#5E81B5" stroke-width="0.2">N=10</text>
<text x="51.9" y="223.50" font-size="4.9" font-weight="bold" fill="#5E81B5" stroke="#5E81B5" stroke-width="0.2">N=4</text>
<text x="72.6" y="221.15" font-size="10.3" font-weight="bold" fill="#587BAE">s−wave Sommerfeld</text>
<rect x="31.7" y="226.70" width="19.30" height="8.60" fill="#E19C24" fill-opacity="0.38"/>
<path d="M31.7,226.70 H51.0" stroke="#E19C24" stroke-width="1.4" stroke-dasharray="2.6 0.9 0.8 0.9" fill="none"/>
<path d="M31.7,235.30 H51.0" stroke="#E19C24" stroke-width="1.4" stroke-dasharray="3 1.15" fill="none"/>
<text x="51.9" y="229.30" font-size="4.9" font-weight="bold" fill="#E19C24" stroke="#E19C24" stroke-width="0.2">N=10</text>
<text x="51.9" y="237.20" font-size="4.9" font-weight="bold" fill="#E19C24" stroke="#E19C24" stroke-width="0.2">N=4</text>
<text x="72.6" y="234.85" font-size="10.3" font-weight="bold" fill="#D3932A">p−wave Sommerfeld</text>
<rect x="31.7" y="240.40" width="19.30" height="8.60" fill="#8FB032" fill-opacity="0.38"/>
<path d="M31.7,240.40 H51.0" stroke="#8FB032" stroke-width="1.75" stroke-dasharray="2.6 0.9 0.8 0.9" fill="none"/>
<path d="M31.7,249.00 H51.0" stroke="#8FB032" stroke-width="1.75" stroke-dasharray="3 1.15" fill="none"/>
<text x="51.9" y="243.00" font-size="4.9" font-weight="bold" fill="#8FB032" stroke="#8FB032" stroke-width="0.2">N=10</text>
<text x="51.9" y="250.90" font-size="4.9" font-weight="bold" fill="#8FB032" stroke="#8FB032" stroke-width="0.2">N=4</text>
<text x="72.6" y="248.55" font-size="10.3" font-weight="bold" fill="#87A534">d−wave Sommerfeld</text>
<rect x="24.8" y="1.15" width="377.0" height="251.75" fill="none" stroke="#000" stroke-width="1.15"/>
<path d="M100.20,252.9 v-3.7 M175.50,252.9 v-3.7 M250.80,252.9 v-3.7 M326.10,252.9 v-3.7 M401.40,252.9 v-3.7 M62.55,252.9 v-2.4 M137.85,252.9 v-2.4 M213.15,252.9 v-2.4 M288.45,252.9 v-2.4 M363.75,252.9 v-2.4 M24.8,13.56 h3.8 M24.8,51.42 h3.8 M24.8,89.28 h3.8 M24.8,127.14 h3.8 M24.8,165.00 h3.8 M24.8,202.86 h3.8 M24.8,240.72 h3.8" stroke="#1a1a1a" stroke-width="0.9" fill="none"/>
<text x="100.20" y="265.3" font-size="12.2" text-anchor="middle" fill="#111">0.1</text>
<text x="175.50" y="265.3" font-size="12.2" text-anchor="middle" fill="#111">0.2</text>
<text x="250.80" y="265.3" font-size="12.2" text-anchor="middle" fill="#111">0.3</text>
<text x="326.10" y="265.3" font-size="12.2" text-anchor="middle" fill="#111">0.4</text>
<text x="401.40" y="265.3" font-size="12.2" text-anchor="middle" fill="#111">0.5</text>
<text x="23.4" y="18.06" font-size="12" text-anchor="end" fill="#111">16</text>
<text x="23.4" y="55.92" font-size="12" text-anchor="end" fill="#111">8</text>
<text x="23.4" y="93.78" font-size="12" text-anchor="end" fill="#111">4</text>
<text x="23.4" y="131.64" font-size="12" text-anchor="end" fill="#111">2</text>
<text x="23.4" y="169.50" font-size="12" text-anchor="end" fill="#111">1</text>
<text x="19.0" y="200.66" font-size="8.3" text-anchor="middle" fill="#111">1</text>
<path d="M16.1,201.96 H22.5" stroke="#111" stroke-width="0.8"/>
<text x="19.0" y="211.96" font-size="8.3" text-anchor="middle" fill="#111">2</text>
<text x="19.0" y="238.52" font-size="8.3" text-anchor="middle" fill="#111">1</text>
<path d="M16.1,239.82 H22.5" stroke="#111" stroke-width="0.8"/>
<text x="19.0" y="249.82" font-size="8.3" text-anchor="middle" fill="#111">4</text>
<text x="213.4" y="273.3" font-size="13" text-anchor="middle" fill="#111">v</text>
<text transform="translate(9.5,148.0) rotate(-90)" font-size="15" font-style="italic" fill="#111">σ</text>
<text transform="translate(11.6,140.0) rotate(-90)" font-size="9" font-style="italic" fill="#111">i</text>
<text transform="translate(9.4,135.9) rotate(-90)" font-size="12.5" fill="#111">/</text>
<text transform="translate(9.5,132.1) rotate(-90)" font-size="15" font-style="italic" fill="#111">σ</text>
<text transform="translate(11.5,123.4) rotate(-90)" font-size="9.3" fill="#111">total</text>
<rect x="326.8" y="228" width="74.5" height="24" fill="#fff"/>
<text x="326.6" y="243.4" font-size="13.2" font-style="italic" fill="#111">S</text>
<text x="335.0" y="244.9" font-size="8.6" fill="#111">A</text>
<text x="342.1" y="243.4" font-size="13.2" font-style="italic" fill="#111">S</text>
<text x="350.7" y="244.9" font-size="8.6" fill="#111">A</text>
<text x="376.6" y="243.4" font-size="13.2" font-style="italic" fill="#111">Q</text>
<text x="388.3" y="243.4" font-size="13.2" font-style="italic" fill="#111">Q</text>
<path d="M360.8,239.3 H370.2 M367.2,236.5 L370.4,239.3 L367.2,242.1" stroke="#111" stroke-width="1" fill="none"/>
<path d="M387.9,231.8 H398.6" stroke="#111" stroke-width="1.25"/>
</svg>
</body></html>
